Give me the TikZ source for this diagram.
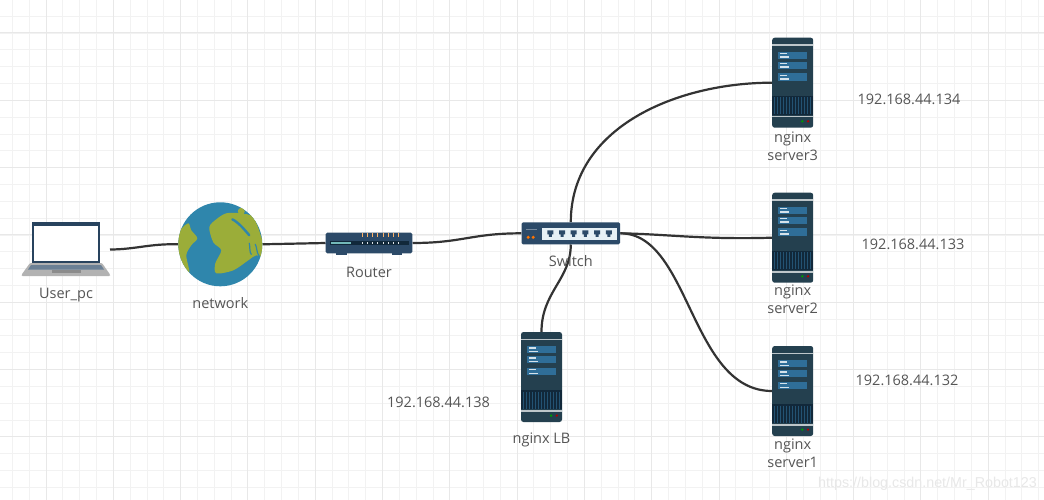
\documentclass[tikz,border=0pt]{standalone}
\usepackage{fontspec}
\setmainfont{Open Sans}
\newfontfamily\markfont{Liberation Sans}
\usetikzlibrary{positioning, backgrounds}
\definecolor{srvbody}{HTML}{24404F}
\definecolor{srvpanel}{HTML}{2F6E98}
\definecolor{srvvent}{HTML}{11283A}
\definecolor{netblue}{HTML}{2F86AC}
\definecolor{netgreen}{HTML}{9BAD39}
\definecolor{boxblue}{HTML}{2C4A68}
\definecolor{txtgrey}{HTML}{555555}
\definecolor{wire}{HTML}{333333}

\begin{document}
\begin{tikzpicture}[x=1pt,y=-1pt,
  label text/.style={font=\fontsize{14.5}{18}\selectfont, text=txtgrey, align=center, inner sep=0pt},
  wire line/.style={line width=2.2pt, draw=wire},
  server/.style={rectangle, rounded corners=2.5pt, minimum width=41pt, minimum height=90pt, inner sep=0pt, fill=srvbody,
    path picture={
      \begin{scope}[sharp corners, shift={(path picture bounding box.center)}]
        \fill[white!70!srvbody] (-20.5,-38.4) rectangle (20.5,-37);
        \fill[white!70!srvbody] (-20.5,33.4) rectangle (20.5,34.8);
        \fill[srvvent] (-20.5,13.3) rectangle (20.5,32.3);
        \foreach \k in {-18,-15,...,18} \draw[srvpanel!60!srvvent, line width=.6pt] (\k,14.5) -- (\k,31.5);
        \foreach \t/\b in {-31/-23.7, -21/-13.7, -9.4/-1.7} {
          \fill[srvpanel] (-14.6,\t) rectangle (14,\b);
          \fill[white!80!srvpanel] (-13,\t+1.4) rectangle (-6,\t+2.6);
          \fill[white!80!srvpanel] (-13,\b-2.6) rectangle (-4,\b-1.4);
        }
        \fill[green!60!black] (9.6,38.6) circle (1.3);
        \fill[red!70!black] (15.3,38.6) circle (1.3);
      \end{scope}}},
  laptop/.style={rectangle, minimum width=68pt, minimum height=41pt, inner sep=0pt, fill=boxblue!90!black,
    path picture={
      \fill[white] ([shift={(2,3.5)}]path picture bounding box.north west) rectangle ([shift={(-2,-2)}]path picture bounding box.south east);}},
  globe/.style={circle, minimum size=84pt, inner sep=0pt, fill=netblue,
    path picture={
      \begin{scope}[shift={(path picture bounding box.center)}]
        \fill[netgreen] plot[smooth cycle] coordinates {(-40,-14) (-32,-21) (-29,-14) (-23,-6) (-29,1) (-34,11) (-31,28) (-41,16) (-44,0)};
        \fill[netgreen] plot[smooth cycle] coordinates {(-11,-17) (-4,-25) (6,-31) (20,-31) (33,-27) (41,-7) (46,13) (36,11) (28,16) (13,26) (-4,29) (-5,19) (1,6) (-7,-2)};
        \fill[netgreen] (21,-33) circle (3.5);
        \draw[netblue, line width=2.4pt, line cap=round] (12,-25) .. controls (18,-22) and (24,-15) .. (29,-9);
        \draw[netblue, line width=1.2pt, line cap=round] (29,-1) .. controls (30,4) and (29,8) .. (31,10);
        \draw[netblue, line width=1.2pt, line cap=round] (35,0) .. controls (37,4) and (36,8) .. (39,12);
      \end{scope}}},
  router/.style={rectangle, rounded corners=1.5pt, minimum width=86.6pt, minimum height=20.6pt, inner sep=0pt, fill=boxblue,
    path picture={
      \begin{scope}[sharp corners, shift={(path picture bounding box.center)}]
        \fill[srvvent] (-39,-2.3) rectangle (39.5,2.3);
        \fill[teal!55!white] (-38,-1) rectangle (-18,1);
        \foreach \k in {0,...,7} {
          \fill[orange!60!white] ({-7.5+\k*5.25},-10.2) rectangle ({-6.5+\k*5.25},-6.2);
          \fill[white!85!boxblue] ({-7.5+\k*5.25},-.6) rectangle ({-6.5+\k*5.25},.6);
        }
      \end{scope}}},
  switchbox/.style={rectangle, rounded corners=1.5pt, minimum width=98.6pt, minimum height=22pt, inner sep=0pt, fill=boxblue,
    path picture={
      \begin{scope}[sharp corners, shift={(path picture bounding box.center)}]
        \fill[white!88!netblue] (-28.5,-5.5) rectangle (46,6.5);
        \foreach \k in {0,...,5} {
          \fill[boxblue] ({-23.5+\k*11.7},-3) -- ({-17.5+\k*11.7},-3) -- ({-17.5+\k*11.7},1) -- ({-19+\k*11.7},1) -- ({-19+\k*11.7},3.5) -- ({-22+\k*11.7},3.5) -- ({-22+\k*11.7},1) -- ({-23.5+\k*11.7},1) -- cycle;
        }
        \draw[white!35!boxblue, line width=.6pt] (-44.5,-4) -- (-34,-4);
        \fill[orange!90!red] (-42.6,4) circle (1.7);
        \fill[orange!90!red] (-37.6,4) circle (1.7);
      \end{scope}}}]

  % Page
  \useasboundingbox (0,0) rectangle (1044,500);

  % Nodes
  \node (pc) [laptop] at (66,242.5) {};
  \fill[color=black!30!white, rounded corners=1pt] (30,263) -- (102,263) -- (110,274.5) -- (110,276) -- (21.7,276) -- (21.7,274.5) -- cycle;
  \fill[boxblue!70!white] (31,265) -- (101,265) -- (104,269.5) -- (28,269.5) -- cycle;
  \fill[black!45!white] (52,269.5) rectangle (81,273);
  \node (net) [globe] at (220.3,244.3) {};
  \node (rt) [router] at (369,243) {};
  \fill[boxblue] (336,253.3) rectangle (346.6,255);
  \fill[boxblue] (391.6,253.3) rectangle (402.3,255);
  \node (swc) [switchbox] at (570.8,233.3) {};
  \node (srvthree) [server] at (792.7,82.7) {};
  \node (srvtwo) [server] at (792.7,237.7) {};
  \node (srvone) [server] at (792.7,391) {};
  \node (srvlb) [server] at (541.5,377) {};

  \node (pclabel) [label text, below=24.5pt of pc.south] {User\_pc};
  \node (netlabel) [label text, below=11pt of net] {network};
  \node (rtlabel) [label text, below=13pt of rt] {Router};
  \node (swclabel) [label text, below=11pt of swc] {Switch};
  \node (threelabel) [label text, below=4pt of srvthree] {nginx\\server3};
  \node (twolabel) [label text, below=2pt of srvtwo] {nginx\\server2};
  \node (onelabel) [label text, below=2pt of srvone] {nginx\\server1};
  \node (lblabel) [label text, below=10pt of srvlb] {nginx LB};
  \node (ipthree) [label text] at (909,99) {192.168.44.134};
  \node (iptwo) [label text] at (913,244) {192.168.44.133};
  \node (ipone) [label text] at (907,380.5) {192.168.44.132};
  \node (iplb) [label text] at (438.5,402) {192.168.44.138};
  \node (blogmark) [font=\markfont\fontsize{14.3}{18}\selectfont, text=black!9, inner sep=0pt] at (927.5,483.5) {https://blog.csdn.net/Mr\_Robot123};

  % Arrows
  \begin{scope}[on background layer]
    \fill[white] (0,0) rectangle (1044,500);
    \foreach \i in {0,...,61} \draw[draw=black!5, line width=.9pt] ({12.35+\i*16.825},0) -- ({12.35+\i*16.825},500);
    \foreach \i in {0,...,29} \draw[draw=black!5, line width=.9pt] (0,{-.6+\i*16.825}) -- (1044,{-.6+\i*16.825});
    \foreach \i in {0,...,14} \draw[draw=black!9, line width=1pt] ({46+\i*67.3},0) -- ({46+\i*67.3},500);
    \foreach \i in {0,...,6} \draw[draw=black!9, line width=1pt] (0,{33+\i*67.3}) -- (1044,{33+\i*67.3});
    \draw [wire line] (110,249.5) .. controls (135,249.5) and (150,243.5) .. (net.west);
    \draw [wire line] (net.east) -- (rt.west);
    \draw [wire line] (rt.east) .. controls +(50,0) and +(-50,0) .. (swc.west);
    \draw [wire line] (swc.north) .. controls +(0,-95) and +(-95,0) .. (srvthree.west);
    \draw [wire line] (swc.east) .. controls +(50,1) and +(-70,2) .. (srvtwo.west);
    \draw [wire line] (swc.east) .. controls +(70,0) and +(-82,0) .. (srvone.west);
    \draw [wire line] (swc.south) .. controls +(0,35) and +(0,-40) .. (srvlb.north);
  \end{scope}

\end{tikzpicture}
\end{document}
